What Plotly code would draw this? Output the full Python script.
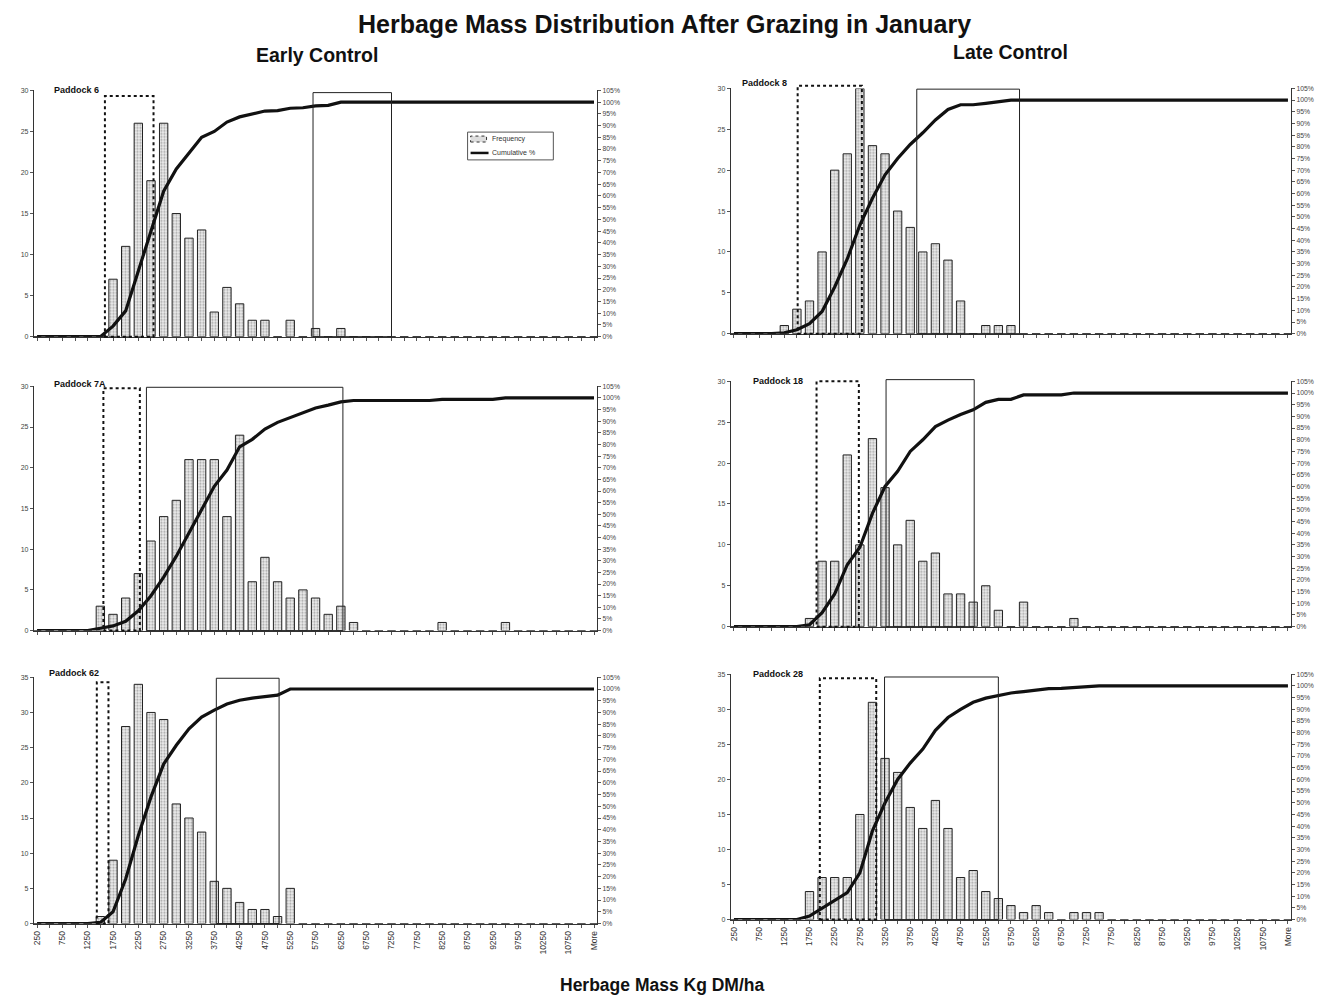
import plotly.graph_objects as go

# ---------------- data ----------------
bins = ["250", "500", "750", "1000", "1250", "1500", "1750", "2000", "2250", "2500",
        "2750", "3000", "3250", "3500", "3750", "4000", "4250", "4500", "4750", "5000",
        "5250", "5500", "5750", "6000", "6250", "6500", "6750", "7000", "7250", "7500",
        "7750", "8000", "8250", "8500", "8750", "9000", "9250", "9500", "9750", "10000",
        "10250", "10500", "10750", "11000", "More"]

labelled_bins = ["250", "750", "1250", "1750", "2250", "2750", "3250", "3750", "4250",
                 "4750", "5250", "5750", "6250", "6750", "7250", "7750", "8250", "8750",
                 "9250", "9750", "10250", "10750", "More"]

# Early control
p6_freq = [0, 0, 0, 0, 0, 0, 7, 11, 26, 19, 26, 15, 12, 13, 3, 6, 4, 2, 2, 0,
           2, 0, 1, 0, 1, 0, 0, 0, 0, 0, 0, 0, 0, 0, 0, 0, 0, 0, 0, 0,
           0, 0, 0, 0, 0]
p6_cum = [0, 0, 0, 0, 0, 0, 4.5, 11, 28, 45, 62, 71.5, 78.5, 85, 87.5, 91.5, 93.7, 95, 96.2, 96.4,
          97.4, 97.6, 98.4, 98.6, 100, 100, 100, 100, 100, 100, 100, 100, 100, 100, 100, 100, 100, 100, 100, 100,
          100, 100, 100, 100, 100]

p7a_freq = [0, 0, 0, 0, 0, 3, 2, 4, 7, 11, 14, 16, 21, 21, 21, 14, 24, 6, 9, 6,
            4, 5, 4, 2, 3, 1, 0, 0, 0, 0, 0, 0, 1, 0, 0, 0, 0, 1, 0, 0,
            0, 0, 0, 0, 0]
p7a_cum = [0, 0, 0, 0, 0, 1, 2, 4, 8.5, 15, 23, 32, 42, 52, 62, 69, 79, 82.2, 86.6, 89.5,
           91.6, 93.8, 95.7, 96.9, 98.3, 98.9, 98.9, 98.9, 98.9, 98.9, 98.9, 98.9, 99.4, 99.4, 99.4, 99.4, 99.4, 100, 100, 100,
           100, 100, 100, 100, 100]

p62_freq = [0, 0, 0, 0, 0, 1, 9, 28, 34, 30, 29, 17, 15, 13, 6, 5, 3, 2, 2, 1,
            5, 0, 0, 0, 0, 0, 0, 0, 0, 0, 0, 0, 0, 0, 0, 0, 0, 0, 0, 0,
            0, 0, 0, 0, 0]
p62_cum = [0, 0, 0, 0, 0, 0.5, 5, 19, 37.5, 54, 68, 76, 83, 88, 91, 93.6, 95.2, 96.1, 96.9, 97.4,
           100, 100, 100, 100, 100, 100, 100, 100, 100, 100, 100, 100, 100, 100, 100, 100, 100, 100, 100, 100,
           100, 100, 100, 100, 100]

# Late control
p8_freq = [0, 0, 0, 0, 1, 3, 4, 10, 20, 22, 30, 23, 22, 15, 13, 10, 11, 9, 4, 0,
           1, 1, 1, 0, 0, 0, 0, 0, 0, 0, 0, 0, 0, 0, 0, 0, 0, 0, 0, 0,
           0, 0, 0, 0, 0]
p8_cum = [0, 0, 0, 0, 0.4, 1.7, 4.3, 9.5, 20, 32, 46.5, 58, 68, 75, 81, 86, 91.5, 96, 98, 98,
          98.6, 99.2, 100, 100, 100, 100, 100, 100, 100, 100, 100, 100, 100, 100, 100, 100, 100, 100, 100, 100,
          100, 100, 100, 100, 100]

p18_freq = [0, 0, 0, 0, 0, 0, 1, 8, 8, 21, 10, 23, 17, 10, 13, 8, 9, 4, 4, 3,
            5, 2, 0, 3, 0, 0, 0, 1, 0, 0, 0, 0, 0, 0, 0, 0, 0, 0, 0, 0,
            0, 0, 0, 0, 0]
p18_cum = [0, 0, 0, 0, 0, 0, 0.8, 6, 14, 26.5, 34, 48.5, 60, 66.5, 75, 80, 85.6, 88.4, 90.8, 92.8,
           96, 97.3, 97.3, 99.2, 99.2, 99.2, 99.2, 100, 100, 100, 100, 100, 100, 100, 100, 100, 100, 100, 100, 100,
           100, 100, 100, 100, 100]

p28_freq = [0, 0, 0, 0, 0, 0, 4, 6, 6, 6, 15, 31, 23, 21, 16, 13, 17, 13, 6, 7,
            4, 3, 2, 1, 2, 1, 0, 1, 1, 1, 0, 0, 0, 0, 0, 0, 0, 0, 0, 0,
            0, 0, 0, 0, 0]
p28_cum = [0, 0, 0, 0, 0, 0, 1.5, 4.8, 8, 11.5, 20, 38, 50, 60, 67, 73, 81, 86.5, 90, 93,
           94.8, 96, 97, 97.6, 98.4, 98.9, 99, 99.4, 99.7, 100, 100, 100, 100, 100, 100, 100, 100, 100, 100, 100,
           100, 100, 100, 100, 100]

# highlighted herbage-mass ranges (kg DM/ha) drawn as boxes over each chart
p6_dotted, p6_solid = (1590, 2550), (5700, 7250)
p7a_dotted, p7a_solid = (1560, 2280), (2410, 6290)
p62_dotted, p62_solid = (1430, 1660), (3790, 5030)
p8_dotted, p8_solid = (1515, 2790), (3880, 5920)
p18_dotted, p18_solid = (1890, 2730), (3270, 5020)
p28_dotted, p28_solid = (1955, 3075), (3240, 5500)

series_names = ["Frequency", "Cumulative %"]

for lst in [p6_freq, p6_cum, p7a_freq, p7a_cum, p62_freq, p62_cum,
            p8_freq, p8_cum, p18_freq, p18_cum, p28_freq, p28_cum]:
    assert len(lst) == len(bins), len(lst)

# ---------------- layout geometry (pixels) ----------------
W, H = 1328, 1004
FONT = "Liberation Sans"

panels = [
    # name, freq, cum, ymax, dotted, solid, (left, right, top, bottom), label(x, y), dotted top, solid top, bottom-row
    ("Paddock 6", p6_freq, p6_cum, 30, p6_dotted, p6_solid, (32, 597, 87, 335), (50, 87), 0.977, 0.991, False),
    ("Paddock 8", p8_freq, p8_cum, 30, p8_dotted, p8_solid, (731, 1293, 85, 332), (740, 80), 1.011, 0.997, False),
    ("Paddock 7A", p7a_freq, p7a_cum, 30, p7a_dotted, p7a_solid, (32, 597, 385, 631), (50, 383), 0.992, 0.996, False),
    ("Paddock 18", p18_freq, p18_cum, 30, p18_dotted, p18_solid, (731, 1293, 380, 627), (751, 380), 1.0, 1.007, False),
    ("Paddock 62", p62_freq, p62_cum, 35, p62_dotted, p62_solid, (32, 597, 678, 926), (45, 674), 0.980, 0.996, True),
    ("Paddock 28", p28_freq, p28_cum, 35, p28_dotted, p28_solid, (731, 1293, 675, 922), (751, 675), 0.984, 0.989, True),
]

ticktext = [b if b in labelled_bins else "" for b in bins]


def kg_to_pos(kg):
    return kg / 250.0 - 1.0


fig = go.Figure()
layout = dict(
    width=W, height=H,
    margin=dict(l=0, r=0, t=0, b=0),
    paper_bgcolor="white", plot_bgcolor="white",
    font=dict(family=FONT, color="#222"),
    barmode="overlay",
    showlegend=False,
)
shapes = []
annotations = []

for k, (name, freq, cum, ymax, dotted, solid, box, lab, dtop, stop, bottom) in enumerate(panels, 1):
    left, right, top, bot = box
    xs = "" if k == 1 else str(k)
    yl = 2 * k - 1
    yr = 2 * k
    yls = "" if yl == 1 else str(yl)
    xdom = [left / W, right / W]
    ydom = [1 - bot / H, 1 - top / H]

    layout["xaxis" + xs] = dict(
        domain=xdom, anchor="y" + yls, type="category",
        categoryorder="array", categoryarray=bins, range=[-0.25, 44.25],
        tickmode="array", tickvals=bins, ticktext=ticktext,
        ticks="outside", ticklen=3, tickcolor="#555", tickwidth=1,
        showline=True, linecolor="#333", linewidth=1,
        showgrid=False, zeroline=False, tickangle=-90,
        showticklabels=bottom, tickfont=dict(size=8.5, color="#333", family=FONT),
    )
    layout["yaxis" + yls] = dict(
        domain=ydom, anchor="x" + xs, range=[0, ymax],
        tickmode="linear", tick0=0, dtick=5,
        ticks="outside", ticklen=3, tickcolor="#555",
        showline=True, linecolor="#333", linewidth=1,
        showgrid=False, zeroline=False,
        tickfont=dict(size=7, color="#444", family=FONT),
    )
    layout["yaxis" + str(yr)] = dict(
        domain=ydom, anchor="x" + xs, overlaying="y" + yls, side="right",
        range=[0, 105], tickmode="array", tickvals=list(range(0, 110, 5)),
        ticktext=[f"{v}%" for v in range(0, 110, 5)],
        ticks="outside", ticklen=3, tickcolor="#555",
        showline=True, linecolor="#333", linewidth=1,
        showgrid=False, zeroline=False,
        tickfont=dict(size=6.8, color="#444", family=FONT),
    )

    fig.add_trace(go.Bar(
        x=bins, y=freq, name=series_names[0], width=0.66,
        xaxis="x" + xs, yaxis="y" + yls,
        marker=dict(color="#eeeeee",
                    line=dict(color="#222", width=1),
                    pattern=dict(shape=".", fgcolor="#555", bgcolor="#eeeeee",
                                 size=3, solidity=0.4)),
        hoverinfo="skip",
    ))
    fig.add_trace(go.Scatter(
        x=bins, y=cum, name=series_names[1], mode="lines",
        xaxis="x" + xs, yaxis="y" + str(yr),
        line=dict(color="#111", width=3.2),
        hoverinfo="skip",
    ))

    # highlighted ranges
    shapes.append(dict(type="rect", xref="x" + xs, yref="y" + yls + " domain",
                       x0=kg_to_pos(dotted[0]), x1=kg_to_pos(dotted[1]), y0=0, y1=dtop,
                       line=dict(color="#111", width=2, dash="dot"), fillcolor="rgba(0,0,0,0)",
                       layer="above"))
    shapes.append(dict(type="rect", xref="x" + xs, yref="y" + yls + " domain",
                       x0=kg_to_pos(solid[0]), x1=kg_to_pos(solid[1]), y0=0, y1=stop,
                       line=dict(color="#222", width=1), fillcolor="rgba(0,0,0,0)",
                       layer="above"))

    annotations.append(dict(text="<b>" + name + "</b>", xref="paper", yref="paper",
                            x=lab[0] / W, y=1 - lab[1] / H, xanchor="left", yanchor="middle",
                            showarrow=False, font=dict(size=9, family=FONT, color="#111")))

# compact legend (as in the original, inside the first chart)
def P(x, y):
    return x / W, 1 - y / H

lx0, ly0 = P(467, 129)
lx1, ly1 = P(553, 157)
shapes.append(dict(type="rect", xref="paper", yref="paper", x0=lx0, x1=lx1, y0=ly1, y1=ly0,
                   line=dict(color="#555", width=1), fillcolor="white", layer="above"))
sx0, sy0 = P(470, 133)
sx1, sy1 = P(486, 139)
shapes.append(dict(type="rect", xref="paper", yref="paper", x0=sx0, x1=sx1, y0=sy1, y1=sy0,
                   line=dict(color="#333", width=1, dash="dot"), fillcolor="#dddddd", layer="above"))
mx0, my = P(470, 150)
mx1, _ = P(488, 150)
shapes.append(dict(type="line", xref="paper", yref="paper", x0=mx0, x1=mx1, y0=my, y1=my,
                   line=dict(color="#111", width=2.5), layer="above"))
tx, ty1 = P(489, 136)
_, ty2 = P(489, 150)
annotations.append(dict(text=series_names[0], xref="paper", yref="paper", x=tx, y=ty1,
                        xanchor="left", yanchor="middle", showarrow=False,
                        font=dict(size=7, family=FONT, color="#333")))
annotations.append(dict(text=series_names[1], xref="paper", yref="paper", x=tx, y=ty2,
                        xanchor="left", yanchor="middle", showarrow=False,
                        font=dict(size=7, family=FONT, color="#333")))

annotations += [
    dict(text="<b>Herbage Mass Distribution After Grazing in January</b>", xref="paper", yref="paper",
         x=664 / W, y=1 - 20 / H, xanchor="center", yanchor="middle", showarrow=False,
         font=dict(size=25, family=FONT, color="#111")),
    dict(text="<b>Early Control</b>", xref="paper", yref="paper",
         x=316 / W, y=1 - 51 / H, xanchor="center", yanchor="middle", showarrow=False,
         font=dict(size=19.5, family=FONT, color="#111")),
    dict(text="<b>Late Control</b>", xref="paper", yref="paper",
         x=1012 / W, y=1 - 48 / H, xanchor="center", yanchor="middle", showarrow=False,
         font=dict(size=19.5, family=FONT, color="#111")),
    dict(text="<b>Herbage Mass Kg DM/ha</b>", xref="paper", yref="paper",
         x=662 / W, y=1 - 988 / H, xanchor="center", yanchor="middle", showarrow=False,
         font=dict(size=17.5, family=FONT, color="#111")),
]

layout["shapes"] = shapes
layout["annotations"] = annotations
fig.update_layout(**layout)

fig.write_html("out.html")
